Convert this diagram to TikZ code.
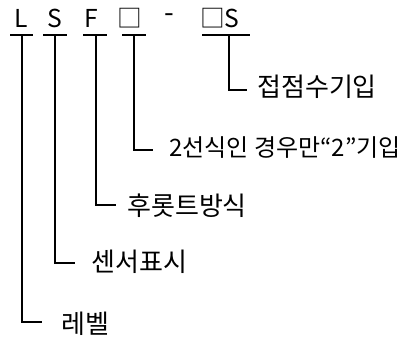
\documentclass[tikz,border=0pt]{standalone}
\usepackage{fontspec}
\newfontfamily\kr{Noto Sans CJK KR}
\begin{document}
\begin{tikzpicture}[x=0.75pt,y=-0.75pt,
  lbl/.style={anchor=west, inner sep=0pt, font=\kr\fontsize{19.5}{24}\selectfont},
  lblsmall/.style={lbl, font=\kr\fontsize{18}{24}\selectfont},
  topch/.style={inner sep=0pt, font=\kr\fontsize{18.5}{22}\selectfont},
  dashch/.style={inner sep=0pt, font=\kr\fontsize{21}{22}\selectfont},
  conn/.style={line width=0.95pt}]
\useasboundingbox (0,0) rectangle (409,338);
% top code characters
\node[topch] (cL) at (21,18) {L};
\node[topch] (cS) at (55,18) {S};
\node[topch] (cF) at (91,18) {F};
\node[topch] (cB1) at (130,18) {□};
\node[dashch] (cD) at (169,18) {-};
\node[topch] (cB2) at (220,18) {□S};
% bars under characters
\draw[conn] (10,35) -- (33,35);
\draw[conn] (43,35) -- (67,35);
\draw[conn] (83,35) -- (107,35);
\draw[conn] (122,35) -- (146,35);
\draw[conn] (202,35) -- (250,35);
% connector start points
\coordinate (bL) at (22,35);
\coordinate (bS) at (55,35);
\coordinate (bF) at (96,35);
\coordinate (bB1) at (134,35);
\coordinate (bB2) at (229,35);
% connector end points
\coordinate (eL) at (42,322);
\coordinate (eS) at (75,263);
\coordinate (eF) at (116,205);
\coordinate (eB1) at (153,150);
\coordinate (eB2) at (247,90);
% labels
\node[lbl] (lB2) at (257,87) {접점수기입};
\node[lblsmall] (lB1) at (169,148) {2선식인 경우만“2”기입};
\node[lbl] (lF) at (127,206) {후롯트방식};
\node[lbl] (lS) at (91,262) {센서표시};
\node[lbl] (lL) at (61,324) {레벨};
% connectors
\draw[conn] (bL) |- (eL);
\draw[conn] (bS) |- (eS);
\draw[conn] (bF) |- (eF);
\draw[conn] (bB1) |- (eB1);
\draw[conn] (bB2) |- (eB2);
\end{tikzpicture}
\end{document}
